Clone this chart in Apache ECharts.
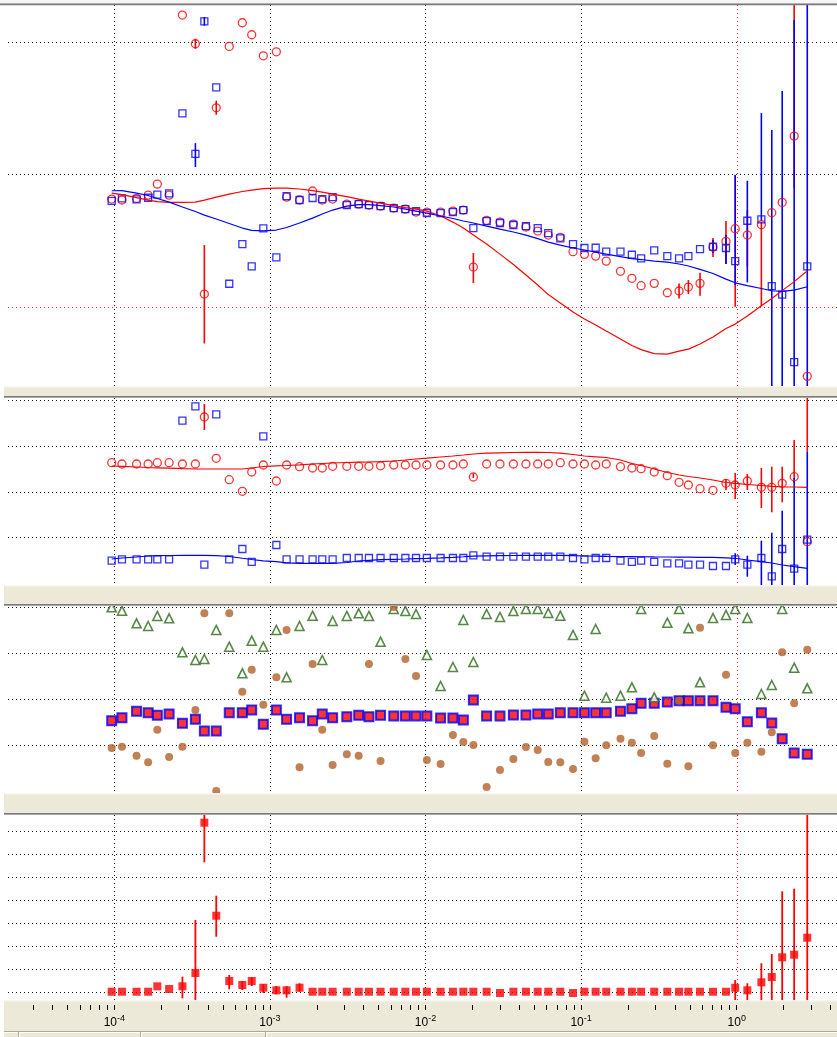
<!DOCTYPE html>
<html>
<head>
<meta charset="utf-8">
<script src="https://cdn.jsdelivr.net/npm/echarts@6/dist/echarts.min.js"></script>
<style>
  html, body { margin: 0; padding: 0; background: #ffffff; }
  #chart { width: 837px; height: 1037px; }
</style>
</head>
<body>
<div id="chart"></div>
<script>
// Frequencies of the measured points (Hz)
const freq = [9.62e-5,1.12e-4,1.39e-4,1.65e-4,1.89e-4,2.25e-4,2.74e-4,3.32e-4,3.79e-4,4.52e-4,
  5.48e-4,6.65e-4,7.64e-4,9.07e-4,1.10e-3,1.28e-3,1.55e-3,1.88e-3,2.17e-3,2.53e-3,
  3.12e-3,3.72e-3,4.33e-3,5.14e-3,6.25e-3,7.42e-3,8.69e-3,1.02e-2,1.25e-2,1.50e-2,
  1.75e-2,2.03e-2,2.47e-2,3.01e-2,3.67e-2,4.42e-2,5.26e-2,6.15e-2,7.35e-2,8.87e-2,
  0.105,0.124,0.145,0.179,0.212,0.243,0.295,0.358,0.426,0.489,
  0.581,0.704,0.853,0.978,1.17,1.44,1.68,1.96,2.34,2.84];

// Panel 1: two measured components and their model curves
const p1Red = [0.814,0.807,0.819,0.844,0.927,0.844,2.205,1.988,0.096,1.504,
  1.968,2.147,2.056,1.897,1.927,0.829,0.807,0.875,0.807,0.814,
  0.776,0.776,0.769,0.761,0.746,0.738,0.716,0.716,0.716,0.723,
  0.731,0.300,0.653,0.640,0.625,0.603,0.572,0.542,0.525,0.416,
  0.396,0.383,0.345,0.268,0.215,0.159,0.177,0.106,0.119,0.149,
  0.177,0.451,0.494,0.590,0.542,0.620,0.711,0.789,1.290,-0.526];
const p1Blue = [0.801,0.819,0.812,0.824,0.847,0.857,1.462,1.156,2.157,1.658,
  0.174,0.474,0.305,0.593,0.373,0.837,0.807,0.822,0.814,0.829,
  0.769,0.776,0.769,0.761,0.746,0.738,0.723,0.708,0.708,0.716,
  0.731,0.595,0.648,0.633,0.618,0.610,0.595,0.557,0.517,0.474,
  0.444,0.446,0.416,0.416,0.393,0.366,0.426,0.383,0.366,0.383,
  0.436,0.454,0.444,0.345,0.650,0.661,0.156,0.091,-0.418,0.305];
const p1RedFit = [0.859,0.848,0.825,0.806,0.795,0.789,0.789,0.791,0.806,0.829,
  0.852,0.871,0.882,0.893,0.897,0.897,0.890,0.878,0.867,0.852,
  0.833,0.814,0.799,0.784,0.765,0.750,0.738,0.723,0.686,0.640,
  0.595,0.542,0.474,0.398,0.319,0.240,0.164,0.092,0.028,-0.040,
  -0.093,-0.138,-0.184,-0.244,-0.293,-0.324,-0.354,-0.358,-0.335,-0.320,
  -0.282,-0.229,-0.165,-0.131,-0.070,0.008,0.062,0.122,0.190,0.270];
const p1BlueFit = [0.877,0.878,0.859,0.841,0.818,0.791,0.754,0.720,0.693,0.663,
  0.629,0.595,0.577,0.574,0.580,0.599,0.633,0.670,0.701,0.731,
  0.761,0.772,0.772,0.765,0.754,0.738,0.723,0.708,0.686,0.667,
  0.648,0.633,0.610,0.587,0.565,0.542,0.515,0.489,0.466,0.444,
  0.429,0.413,0.398,0.379,0.364,0.357,0.345,0.338,0.323,0.308,
  0.283,0.251,0.209,0.181,0.160,0.138,0.121,0.116,0.126,0.151];
// error bars: [point index, low, high]
const p1RedErr = [[7,1.950,2.026],[8,-0.277,0.466],[9,1.451,1.557],[31,0.179,0.406],
  [48,0.062,0.175],[49,0.096,0.202],[50,0.083,0.257],[51,0.376,0.519],[52,0.323,0.648],
  [53,0.0,0.996],[54,0.302,0.731],[55,0.005,0.640],[58,0.9,2.7]];
const p1BlueErr = [[7,1.056,1.237],[8,2.125,2.190],[51,0.406,0.504],[52,0.323,0.542],
  [53,0.164,0.996],[54,0.184,0.952],[55,0.648,1.464],[56,-1.1,1.336],[57,-1.1,1.630],
  [58,-1.1,2.167],[59,-1.1,2.7]];

// Panel 2
const p2Red = [2.638,2.610,2.610,2.610,2.638,2.638,2.610,2.610,3.640,2.735,
  2.265,2.011,2.434,2.588,2.237,2.588,2.550,2.522,2.522,2.559,
  2.559,2.559,2.559,2.570,2.588,2.588,2.588,2.588,2.588,2.588,
  2.610,2.325,2.610,2.610,2.610,2.610,2.610,2.610,2.638,2.610,
  2.610,2.588,2.610,2.550,2.522,2.507,2.434,2.353,2.208,2.149,
  2.068,2.033,2.186,2.149,2.237,2.099,2.099,2.186,2.331,0.906];
const p2Blue = [0.489,0.520,0.520,0.520,0.520,0.520,3.559,3.875,0.401,3.700,
  0.520,0.746,0.461,3.217,0.833,0.520,0.520,0.520,0.520,0.520,
  0.548,0.548,0.548,0.548,0.548,0.548,0.548,0.548,0.548,0.548,
  0.548,0.607,0.577,0.577,0.577,0.577,0.577,0.577,0.577,0.548,
  0.520,0.548,0.548,0.489,0.461,0.489,0.461,0.432,0.432,0.401,
  0.401,0.373,0.373,0.520,0.401,0.548,0.147,0.746,0.314,0.950];
const p2RedFit = [2.566,2.559,2.544,2.533,2.526,2.518,2.507,2.500,2.500,2.500,
  2.500,2.500,2.522,2.555,2.570,2.577,2.592,2.610,2.621,2.632,
  2.643,2.649,2.654,2.660,2.675,2.697,2.719,2.737,2.763,2.785,
  2.807,2.829,2.846,2.855,2.862,2.866,2.866,2.862,2.846,2.818,
  2.785,2.768,2.752,2.697,2.621,2.577,2.500,2.423,2.368,2.336,
  2.303,2.259,2.204,2.186,2.160,2.138,2.121,2.110,2.105,2.099];
const p2BlueFit = [0.526,0.548,0.570,0.592,0.599,0.603,0.607,0.607,0.607,0.601,
  0.581,0.542,0.515,0.487,0.467,0.443,0.432,0.432,0.432,0.432,
  0.450,0.482,0.498,0.511,0.520,0.526,0.535,0.542,0.553,0.564,
  0.575,0.588,0.596,0.601,0.603,0.605,0.607,0.607,0.605,0.599,
  0.592,0.588,0.583,0.579,0.577,0.575,0.572,0.570,0.568,0.566,
  0.564,0.564,0.553,0.542,0.504,0.467,0.439,0.395,0.357,0.322];
const p2RedErr = [[8,3.355,3.925],[31,2.303,2.397],[52,2.039,2.281],[53,1.842,2.412],
  [54,2.039,2.390],[55,1.645,2.522],[56,1.550,2.550],[57,1.770,2.550],[58,2.2,3.136],[59,2.879,5]];
const p2BlueErr = [[53,0.395,0.651],[54,0.138,0.599],[55,-0.5,0.928],[56,-0.5,1.103],
  [57,-0.5,1.586],[58,-0.5,2.3],[59,-0.5,2.879]];

// Panel 3
const p3Triangle = [4.000,3.926,3.652,3.593,3.811,3.761,3.022,2.854,2.876,3.507,
  3.143,2.565,3.274,3.143,3.507,2.478,3.593,3.817,2.854,3.702,
  3.811,3.870,3.811,3.252,3.963,3.920,3.854,2.963,2.289,2.702,
  3.724,2.811,3.854,3.789,3.920,3.963,3.963,3.876,3.817,3.398,
  2.078,3.528,2.035,2.078,2.261,3.963,2.043,3.665,3.963,3.543,
  2.370,3.767,3.833,3.963,3.767,2.115,2.311,3.963,2.687,2.239];
const p3Dot = [0.941,0.970,0.774,0.630,1.339,0.746,0.970,1.767,3.870,0.007,
  3.870,2.165,2.643,1.883,2.478,3.507,0.522,2.767,1.339,0.572,
  0.804,0.774,2.767,0.659,4.007,2.876,2.507,0.680,0.593,1.224,
  1.072,1.007,0.093,0.463,0.702,0.963,0.898,0.637,0.630,0.485,
  1.078,0.717,1.000,1.143,1.057,0.833,1.202,0.600,1.970,0.543,
  3.557,1.000,2.535,0.833,1.057,0.861,1.283,3.022,1.913,3.078];
const p3Square = [1.535,1.600,1.739,1.709,1.652,1.680,1.478,1.565,1.311,1.311,
  1.709,1.709,1.767,1.457,1.767,1.565,1.600,1.535,1.680,1.600,
  1.622,1.652,1.622,1.652,1.637,1.637,1.637,1.637,1.593,1.593,
  1.550,1.985,1.637,1.637,1.659,1.659,1.680,1.680,1.709,1.709,
  1.709,1.709,1.709,1.739,1.796,1.913,1.913,1.941,1.970,1.970,
  1.970,1.970,1.826,1.796,1.513,1.709,1.485,1.143,0.833,0.804];

// Panel 4
const p4Value = [0.043,0.043,0.043,0.043,0.278,0.161,0.278,0.857,7.391,3.348,
  0.509,0.335,0.509,0.217,0.104,0.104,0.217,0.043,0.043,0.043,
  0.043,0.043,0.043,0.043,0.043,0.043,0.043,0.043,0.043,0.043,
  0.043,0.043,0.043,-0.013,0.043,0.043,0.043,0.043,0.043,-0.013,
  0.043,0.043,0.043,0.043,0.043,0.043,0.043,0.043,0.043,0.043,
  0.043,0.043,0.043,0.217,0.104,0.452,0.683,1.539,1.652,2.391];
const p4Err = [[6,-0.243,0.696],[7,-0.361,3.161],[8,5.670,9.13],[9,2.435,4.217],
  [10,0.148,0.770],[11,0.117,0.509],[12,0.291,0.670],[13,-0.013,0.378],[14,-0.07,0.291],
  [15,-0.217,0.291],[16,0.043,0.409],[53,-0.317,0.552],[54,-0.317,0.409],[55,-0.4,1.278],
  [56,-0.4,1.683],[57,-0.4,4.409],[58,-0.4,4.522],[59,-0.4,9]];

// Axis ticks, ranges and reference lines
const decadeTicks = [1e-4, 1e-3, 1e-2, 1e-1, 1];
const decadeGrid = [1e-4, 1e-3, 1e-2, 1e-1];
const minorMult = [1, 2, 3, 4, 5, 6, 7, 8, 9];
const xMin = 2.074e-5, xMax = 4.41;
const yRanges = [[-0.599, 2.281], [-0.044, 4.057], [-0.037, 4.028], [-0.317, 7.726]];
const yGridLines = [[1, 2], [1, 2, 3, 4], [1, 2, 3, 4], [0, 1, 2, 3, 4, 5, 6, 7]];
const refX = 1;                       // red dotted vertical in every panel
const refY = [0, null, null, null];   // red dotted horizontal, first panel only

const minorTicks = [];
for (let e = -5; e <= 0; e++) {
  for (const m of minorMult) {
    const v = +(m * Math.pow(10, e)).toPrecision(3);
    if (v >= xMin && v <= xMax) minorTicks.push(v);
  }
}

const RED = '#ff0000', BLUE = '#0000ff', GREEN = '#2a6a18', BROWN = '#b3622a';
const GRID_INK = '#1a1a1a', GUIDE_INK = '#ff1a1a';
const DOT = [1, 3];

const pairs = ys => freq.map((f, i) => [f, ys[i]]);

function fitLine(gi, ys, color) {
  return {
    type: 'line', xAxisIndex: gi, yAxisIndex: gi, data: pairs(ys),
    symbol: 'none', showSymbol: false, silent: true,
    lineStyle: { color: color, width: 1.2 }
  };
}

function points(gi, ys, symbol, size, itemStyle) {
  return {
    type: 'scatter', xAxisIndex: gi, yAxisIndex: gi, data: pairs(ys),
    symbol: symbol, symbolSize: size, silent: true, itemStyle: itemStyle
  };
}

function errorBars(gi, list, color, width) {
  return {
    type: 'custom', xAxisIndex: gi, yAxisIndex: gi, silent: true,
    data: list.map(([i, lo, hi]) => [freq[i], lo, hi]),
    encode: { x: 0, y: [1, 2] },
    renderItem(params, api) {
      const cs = params.coordSys;
      const a = api.coord([api.value(0), api.value(1)]);
      const b = api.coord([api.value(0), api.value(2)]);
      const clampY = y => Math.max(cs.y, Math.min(cs.y + cs.height, y));
      return {
        type: 'line',
        shape: { x1: a[0], y1: clampY(a[1]), x2: b[0], y2: clampY(b[1]) },
        style: { stroke: color, lineWidth: width }
      };
    }
  };
}

const gridBoxes = [
  { left: 8, right: 0, top: 5, height: 381 },
  { left: 8, right: 0, top: 398, height: 187 },
  { left: 8, right: 0, top: 606, height: 187 },
  { left: 8, right: 0, top: 815, height: 185 }
];

const xAxes = gridBoxes.map((g, gi) => ({
  type: 'log', logBase: 10, gridIndex: gi, min: xMin, max: xMax, position: 'top',
  axisLine: { show: false }, axisLabel: { show: false },
  axisTick: { show: false, customValues: decadeGrid },
  splitLine: { show: true, lineStyle: { color: GRID_INK, type: DOT, width: 1 } }
}));
// tick marks and decade labels under the last panel
const labelFont = 'Liberation Sans, Arial, sans-serif';
xAxes.push({
  type: 'log', logBase: 10, gridIndex: 3, min: xMin, max: xMax, position: 'bottom', offset: 5,
  axisLine: { show: false },
  splitLine: { show: false },
  axisTick: { show: true, length: 5, customValues: minorTicks, lineStyle: { color: '#000', width: 1 } },
  axisLabel: {
    show: true, customValues: decadeTicks, margin: 9,
    formatter: v => '{b|10}{s|' + Math.round(Math.log10(v)) + '}',
    rich: {
      b: { fontSize: 12, fontFamily: labelFont, color: '#000', verticalAlign: 'bottom', lineHeight: 15 },
      s: { fontSize: 9, fontFamily: labelFont, color: '#000', verticalAlign: 'top', lineHeight: 15 }
    }
  }
});

const yAxes = gridBoxes.map((g, gi) => ({
  type: 'value', gridIndex: gi, min: yRanges[gi][0], max: yRanges[gi][1],
  axisLine: { show: false }, axisLabel: { show: false },
  axisTick: { show: false, customValues: yGridLines[gi] },
  splitLine: { show: true, lineStyle: { color: GRID_INK, type: DOT, width: 1 } }
}));

const hollowRed = { color: 'transparent', borderColor: RED, borderWidth: 1.3 };
const hollowBlue = { color: 'transparent', borderColor: BLUE, borderWidth: 1.3 };

const series = [
  // panel 1
  fitLine(0, p1RedFit, RED),
  fitLine(0, p1BlueFit, BLUE),
  errorBars(0, p1RedErr, RED, 1.6),
  points(0, p1Red, 'circle', 8, hollowRed),
  errorBars(0, p1BlueErr, BLUE, 1.6),
  points(0, p1Blue, 'rect', 7, hollowBlue),
  // panel 2
  fitLine(1, p2RedFit, RED),
  fitLine(1, p2BlueFit, BLUE),
  errorBars(1, p2RedErr, RED, 1.6),
  points(1, p2Red, 'circle', 8, hollowRed),
  errorBars(1, p2BlueErr, BLUE, 1.6),
  points(1, p2Blue, 'rect', 7, hollowBlue),
  // panel 3
  points(2, p3Square, 'rect', 9, { color: RED, borderColor: BLUE, borderWidth: 2 }),
  points(2, p3Triangle, 'triangle', 9, { color: '#ffffff', borderColor: GREEN, borderWidth: 1.6 }),
  points(2, p3Dot, 'circle', 8, { color: BROWN }),
  // panel 4
  errorBars(3, p4Err, RED, 1.8),
  points(3, p4Value, 'rect', 8, { color: RED })
];

// window chrome: splitter bars between the panels and the footer
const BEIGE = '#ece9d8';
function splitter(y0, y1) {
  return [
    { type: 'rect', z: 100, shape: { x: 4, y: y0, width: 833, height: y1 - y0 }, style: { fill: BEIGE } },
    { type: 'rect', z: 100, shape: { x: 4, y: y0, width: 833, height: 1.5 }, style: { fill: '#f7f6f1' } },
    { type: 'rect', z: 100, shape: { x: 4, y: y1 - 2, width: 833, height: 1 }, style: { fill: '#7a7a7a' } },
    { type: 'rect', z: 100, shape: { x: 4, y: y1 - 1, width: 833, height: 1 }, style: { fill: '#a8a8a8' } }
  ];
}
const chrome = [].concat(
  [
    { type: 'rect', z: 100, shape: { x: 0, y: 0, width: 837, height: 3 }, style: { fill: '#f6f6f4' } },
    { type: 'rect', z: 100, shape: { x: 0, y: 3, width: 837, height: 1 }, style: { fill: '#b0b0b0' } },
    { type: 'rect', z: 100, shape: { x: 0, y: 4, width: 837, height: 1.3 }, style: { fill: '#7a7a7a' } }
  ],
  splitter(386, 398),
  splitter(585, 606),
  splitter(793, 815),
  [
    { type: 'rect', z: 0, shape: { x: 4, y: 1000, width: 833, height: 37 }, style: { fill: BEIGE } },
    { type: 'rect', z: 0, shape: { x: 4, y: 1000, width: 833, height: 1.5 }, style: { fill: '#f7f6f1' } },
    { type: 'rect', z: 100, shape: { x: 4, y: 1031, width: 833, height: 1 }, style: { fill: '#aca899' } },
    { type: 'rect', z: 100, shape: { x: 4, y: 1032, width: 833, height: 1 }, style: { fill: '#ffffff' } },
    { type: 'rect', z: 100, shape: { x: 18, y: 1032, width: 1, height: 5 }, style: { fill: '#aca899' } },
    { type: 'rect', z: 100, shape: { x: 19, y: 1032, width: 1, height: 5 }, style: { fill: '#ffffff' } },
    { type: 'rect', z: 100, shape: { x: 140, y: 1032, width: 1, height: 5 }, style: { fill: '#aca899' } },
    { type: 'rect', z: 100, shape: { x: 141, y: 1032, width: 1, height: 5 }, style: { fill: '#ffffff' } },
    { type: 'rect', z: 100, shape: { x: 265, y: 1032, width: 1, height: 5 }, style: { fill: '#aca899' } },
    { type: 'rect', z: 100, shape: { x: 266, y: 1032, width: 1, height: 5 }, style: { fill: '#ffffff' } }
  ]
);

const chart = echarts.init(document.getElementById('chart'), null, { renderer: 'canvas' });
chart.setOption({
  backgroundColor: '#ffffff',
  animation: false,
  grid: gridBoxes,
  xAxis: xAxes,
  yAxis: yAxes,
  series: series,
  graphic: { elements: chrome }
});

// red dotted reference lines, positioned through each panel's scales
const guideLines = [];
gridBoxes.forEach((g, gi) => {
  const gx = Math.round(chart.convertToPixel({ xAxisIndex: gi }, refX)) + 0.5;
  const top = chart.convertToPixel({ yAxisIndex: gi }, yRanges[gi][1]);
  const bottom = chart.convertToPixel({ yAxisIndex: gi }, yRanges[gi][0]);
  const st = { stroke: GUIDE_INK, lineWidth: 1, lineDash: DOT, fill: null };
  guideLines.push({ type: 'line', z: 60, silent: true, shape: { x1: gx, y1: top, x2: gx, y2: bottom }, style: st });
  if (refY[gi] != null) {
    const gy = Math.round(chart.convertToPixel({ yAxisIndex: gi }, refY[gi])) + 0.5;
    const left = chart.convertToPixel({ xAxisIndex: gi }, xMin);
    const right = chart.convertToPixel({ xAxisIndex: gi }, xMax);
    guideLines.push({ type: 'line', z: 60, silent: true, shape: { x1: left, y1: gy, x2: right, y2: gy }, style: st });
  }
});
chart.setOption({ graphic: { elements: chrome.concat(guideLines) } });
</script>
</body>
</html>
